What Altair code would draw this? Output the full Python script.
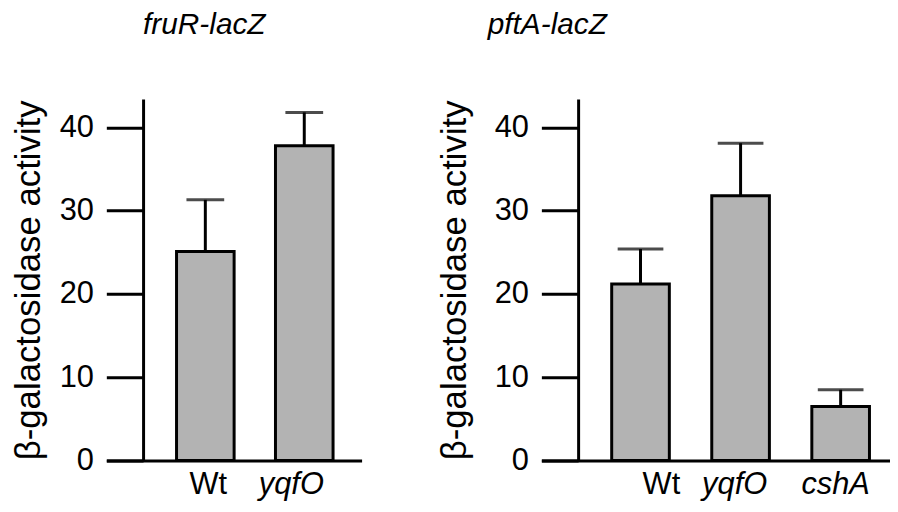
import altair as alt
import pandas as pd

# ---- data ----
left_title = "fruR-lacZ"
left_strains = ["Wt", "yqfO"]
left_activity = [25.1, 37.8]
left_sd = [6.2, 4.0]

right_title = "pftA-lacZ"
right_strains = ["Wt", "yqfO", "cshA"]
right_activity = [21.2, 31.8, 6.5]
right_sd = [4.2, 6.3, 2.0]

y_ticks = [0, 10, 20, 30, 40]
y_max = 43.4
y_label = "β-galactosidase activity"

FONT = "Liberation Sans"
GRAY = "#b3b3b3"


def panel(title, strains, activity, sd, width, p_inner, p_outer, align,
          cap, title_dx, label_offsets, title_pad):
    df = pd.DataFrame({"strain": strains, "activity": activity, "sd": sd})
    df["upper"] = df["activity"] + df["sd"]

    conds = [{"test": f"datum.value === '{s}'", "value": o}
             for s, o in zip(strains[:-1], label_offsets[:-1])]
    label_offset = {"condition": conds, "value": label_offsets[-1]}

    x = alt.X(
        "strain:N",
        sort=strains,
        scale=alt.Scale(domain=strains, paddingInner=p_inner,
                        paddingOuter=p_outer, align=align),
        axis=alt.Axis(
            title=None, ticks=False, tickSize=0, labelAngle=0,
            labelPadding=9, labelFont=FONT, labelFontSize=31,
            labelColor="black",
            labelFontStyle={"condition": {"test": "datum.value === 'Wt'",
                                          "value": "normal"},
                            "value": "italic"},
            labelOffset=label_offset,
            domainColor="black", domainWidth=3,
        ),
    )
    yscale = alt.Scale(domain=[0, y_max], nice=False, zero=True)
    y = alt.Y(
        "activity:Q",
        scale=yscale,
        axis=alt.Axis(
            title=y_label, values=y_ticks, offset=-37, tickSize=37,
            tickWidth=3, tickColor="black", domainColor="black",
            domainWidth=3, grid=False, labelFont=FONT, labelFontSize=31,
            labelColor="black", labelPadding=13, titleFont=FONT,
            titleFontSize=35, titleFontWeight="normal", titleColor="black",
            titlePadding=title_pad,
        ),
    )
    base = alt.Chart(df)
    err = base.mark_rule(color="black", strokeWidth=3).encode(
        x=x, y=alt.Y("activity:Q", scale=yscale), y2="upper:Q")
    caps = base.mark_tick(orient="horizontal", color="black", size=cap,
                          thickness=3).encode(
        x=x, y=alt.Y("upper:Q", scale=yscale))
    bars = base.mark_bar(fill=GRAY, stroke="black", strokeWidth=3).encode(
        x=x, y=y)
    return alt.layer(err, caps, bars).properties(
        width=width, height=364,
        title=alt.TitleParams(
            title, font=FONT, fontSize=30, fontStyle="italic",
            fontWeight="normal", color="black", anchor="start",
            frame="group", dx=title_dx, offset=36, baseline="alphabetic"),
    )


left = panel(left_title, left_strains, left_activity, left_sd,
             width=257, p_inner=0.418, p_outer=0.499, align=0.711,
             cap=38, title_dx=37, label_offsets=[3, -13], title_pad=13)
right = panel(right_title, right_strains, right_activity, right_sd,
              width=351, p_inner=0.424, p_outer=0.454, align=0.774,
              cap=46, title_dx=-54, label_offsets=[21, -6, -5],
              title_pad=22)

chart = alt.hconcat(left, right, spacing=181, bounds="flush").configure_view(
    stroke=None).properties(
    padding={"left": 3, "top": 0, "right": 0, "bottom": 0},
    background="white")

chart.save("out.html", embed_options={"renderer": "svg", "actions": False})
